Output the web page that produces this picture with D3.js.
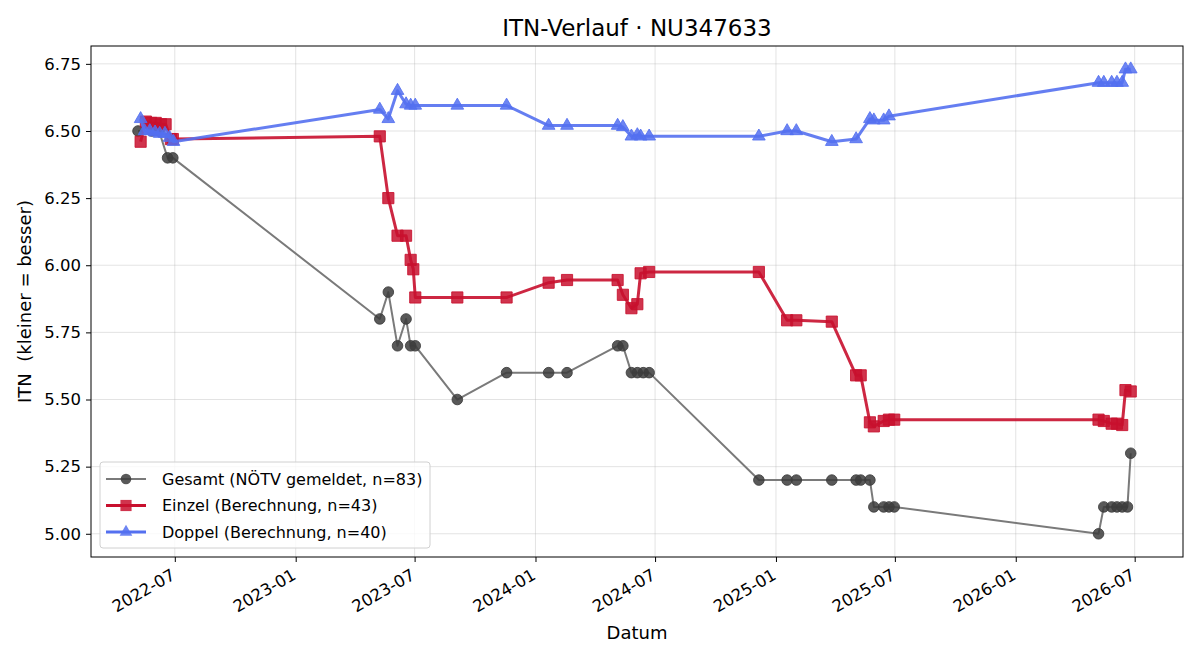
<!DOCTYPE html>
<html>
<head>
<meta charset="utf-8">
<script src="https://cdn.jsdelivr.net/npm/d3@7"></script>
<style>
  body { margin: 0; background: #fff; }
  svg { font-family: "DejaVu Sans", sans-serif; }
  text { white-space: pre; }
  .grid line { stroke: #b0b0b0; stroke-opacity: 0.35; }
  .axis path, .axis line { stroke: #000; }
</style>
</head>
<body>
<svg id="chart" width="1200" height="660"></svg>
<script>
// Gesamt (NÖTV gemeldet)
gesamtDates = ['2022-05-06','2022-05-27','2022-06-07','2022-06-20','2022-06-28',
  '2023-05-09','2023-05-22','2023-06-05','2023-06-18','2023-06-25','2023-07-02',
  '2023-09-04','2023-11-18','2024-01-21','2024-02-18','2024-05-05','2024-05-13',
  '2024-05-26','2024-06-04','2024-06-13','2024-06-22','2024-12-06','2025-01-18',
  '2025-02-01','2025-03-27','2025-05-03','2025-05-10','2025-05-24','2025-05-30',
  '2025-06-14','2025-06-22','2025-06-30','2026-05-07','2026-05-15','2026-05-27',
  '2026-06-04','2026-06-12','2026-06-20','2026-06-25']
gesamtValues = [6.50, 6.50, 6.50, 6.40, 6.40,
  5.80, 5.90, 5.70, 5.80, 5.70, 5.70,
  5.50, 5.60, 5.60, 5.60, 5.70, 5.70,
  5.60, 5.60, 5.60, 5.60, 5.20, 5.20,
  5.20, 5.20, 5.20, 5.20, 5.20, 5.10,
  5.10, 5.10, 5.10, 5.00, 5.10, 5.10,
  5.10, 5.10, 5.10, 5.30]

// Einzel (Berechnung)
einzelDates = ['2022-05-10','2022-05-18','2022-05-26','2022-06-02','2022-06-10',
  '2022-06-17','2022-06-25','2022-06-28','2023-05-09','2023-05-22','2023-06-05',
  '2023-06-18','2023-06-25','2023-06-29','2023-07-02','2023-09-04','2023-11-18',
  '2024-01-21','2024-02-18','2024-05-05','2024-05-13','2024-05-26','2024-06-04',
  '2024-06-09','2024-06-22','2024-12-06','2025-01-18','2025-02-01','2025-03-27',
  '2025-05-03','2025-05-10','2025-05-24','2025-05-30','2025-06-14','2025-06-22',
  '2025-06-30','2026-05-07','2026-05-15','2026-05-27','2026-06-04','2026-06-12',
  '2026-06-17','2026-06-25']
einzelValues = [6.46, 6.535, 6.53, 6.53, 6.525,
  6.525, 6.47, 6.47, 6.48, 6.25, 6.11,
  6.11, 6.02, 5.985, 5.88, 5.88, 5.88,
  5.935, 5.945, 5.945, 5.89, 5.84, 5.855,
  5.97, 5.975, 5.975, 5.795, 5.795, 5.79,
  5.59, 5.59, 5.415, 5.40, 5.42, 5.425,
  5.425, 5.425, 5.42, 5.41, 5.41, 5.405,
  5.535, 5.53]

// Doppel (Berechnung)
doppelDates = ['2022-05-10','2022-05-16','2022-05-24','2022-06-01','2022-06-08',
  '2022-06-16','2022-06-23','2022-06-29','2023-05-09','2023-05-22','2023-06-05',
  '2023-06-18','2023-06-25','2023-07-02','2023-09-04','2023-11-18','2024-01-21',
  '2024-02-18','2024-05-05','2024-05-13','2024-05-26','2024-06-04','2024-06-09',
  '2024-06-22','2024-12-06','2025-01-18','2025-02-01','2025-03-27','2025-05-03',
  '2025-05-24','2025-05-30','2025-06-14','2025-06-22','2026-05-07','2026-05-15',
  '2026-05-27','2026-06-04','2026-06-12','2026-06-17','2026-06-25']
doppelValues = [6.545, 6.50, 6.50, 6.495, 6.49,
  6.49, 6.475, 6.46, 6.58, 6.545, 6.65,
  6.60, 6.595, 6.595, 6.595, 6.595, 6.52,
  6.52, 6.52, 6.515, 6.48, 6.485, 6.48,
  6.48, 6.48, 6.50, 6.50, 6.46, 6.47,
  6.545, 6.54, 6.54, 6.555, 6.68, 6.68,
  6.68, 6.68, 6.68, 6.73, 6.73]

titleText = 'ITN-Verlauf · NU347633'
xLabel = 'Datum'
yLabel = 'ITN  (kleiner = besser)'
yTicks = [5.00, 5.25, 5.50, 5.75, 6.00, 6.25, 6.50, 6.75]

parse = d3.timeParse('%Y-%m-%d')

series = [
  { name: 'Gesamt (NÖTV gemeldet, n=83)', dates: gesamtDates, values: gesamtValues,
    line: '#7a7a7a', lw: 2, fill: '#3c3c3c', shape: d3.symbolCircle, size: 88 },
  { name: 'Einzel (Berechnung, n=43)', dates: einzelDates, values: einzelValues,
    line: '#c8102e', lw: 3, fill: '#c8102e', shape: d3.symbolSquare, size: 125 },
  { name: 'Doppel (Berechnung, n=40)', dates: doppelDates, values: doppelValues,
    line: '#5470f0', lw: 3, fill: '#5470f0', shape: d3.symbolTriangle, size: 70 }
]
series.forEach(function(s) {
  s.points = s.dates.map(function(d, i) { return { date: parse(d), value: s.values[i] } })
})

margin = { left: 91, right: 17, top: 46, bottom: 103 }
width = 1200 - margin.left - margin.right
height = 660 - margin.top - margin.bottom

allPoints = d3.merge(series.map(function(s) { return s.points }))
xExt = d3.extent(allPoints, function(d) { return d.date })
yExt = d3.extent(allPoints, function(d) { return d.value })
xPad = (xExt[1] - xExt[0]) * 0.05
yPad = (yExt[1] - yExt[0]) * 0.05

x = d3.scaleTime()
      .domain([d3.timeDay.offset(new Date(+xExt[0] - xPad), 4),
               d3.timeDay.offset(new Date(+xExt[1] + xPad), 4)])
      .range([0, width])
y = d3.scaleLinear()
      .domain([yExt[0] - yPad, yExt[1] + yPad])
      .range([height, 0])

svg = d3.select('#chart')
g = svg.append('g').attr('transform', 'translate(' + margin.left + ',' + margin.top + ')')

xTicks = d3.timeMonth.range(d3.timeMonth.ceil(x.domain()[0]), x.domain()[1])
  .filter(function(d) { return d.getMonth() == 0 || d.getMonth() == 6 })

// grid
grid = g.append('g').attr('class', 'grid')
grid.selectAll('line.v').data(xTicks).enter().append('line').attr('class', 'v')
  .attr('x1', function(d) { return x(d) }).attr('x2', function(d) { return x(d) })
  .attr('y1', 0).attr('y2', height)
grid.selectAll('line.h').data(yTicks).enter().append('line').attr('class', 'h')
  .attr('y1', function(d) { return y(d) }).attr('y2', function(d) { return y(d) })
  .attr('x1', 0).attr('x2', width)

// axes
xAxis = g.append('g').attr('class', 'axis')
  .attr('transform', 'translate(0,' + height + ')')
  .call(d3.axisBottom(x).tickValues(xTicks).tickFormat(d3.timeFormat('%Y-%m')).tickSize(5).tickPadding(6))
xAxis.attr('font-size', 16.5).attr('font-family', null)
xAxis.selectAll('text').each(function() {
  var t = d3.select(this)
  var yv = +t.attr('y')
  t.attr('text-anchor', 'end')
   .attr('x', 0).attr('y', 0).attr('dy', '0.72em')
   .attr('transform', 'translate(-5,' + yv + ') rotate(-30)')
})
xAxis.select('.domain').remove()

yAxis = g.append('g').attr('class', 'axis')
  .call(d3.axisLeft(y).tickValues(yTicks).tickFormat(d3.format('.2f')).tickSize(5).tickPadding(5))
yAxis.attr('font-size', 16.5).attr('font-family', null)
yAxis.select('.domain').remove()

g.append('rect').attr('width', width).attr('height', height)
  .attr('fill', 'none').attr('stroke', '#000').attr('stroke-width', 1)

// lines and markers
series.forEach(function(s) {
  var line = d3.line()
    .x(function(d) { return x(d.date) })
    .y(function(d) { return y(d.value) })
  g.append('path').datum(s.points)
    .attr('d', line)
    .attr('fill', 'none')
    .attr('stroke', s.line)
    .attr('stroke-width', s.lw)
    .attr('stroke-opacity', s.shape == d3.symbolCircle ? 1 : 0.9)
    .attr('stroke-linejoin', 'round')
  g.append('g').selectAll('path').data(s.points).enter().append('path')
    .attr('transform', function(d) { return 'translate(' + x(d.date) + ',' + y(d.value) + ')' })
    .attr('d', d3.symbol().type(s.shape).size(s.size))
    .attr('fill', s.fill)
    .attr('fill-opacity', 0.85)
    .attr('stroke', s.fill)
    .attr('stroke-opacity', 0.85)
    .attr('stroke-width', 1)
})

// legend
legend = g.append('g').attr('transform', 'translate(9,' + (height - 95) + ')')
legend.append('rect')
  .attr('width', 330).attr('height', 86).attr('rx', 3)
  .attr('fill', '#fff').attr('fill-opacity', 0.8)
  .attr('stroke', '#d0d0d0')
series.forEach(function(s, i) {
  var row = legend.append('g').attr('transform', 'translate(0,' + (17 + i * 26.5) + ')')
  row.append('line').attr('x1', 6).attr('x2', 46)
    .attr('stroke', s.line).attr('stroke-width', s.lw)
  row.append('path').attr('transform', 'translate(26,0)')
    .attr('d', d3.symbol().type(s.shape).size(s.size))
    .attr('fill', s.fill).attr('fill-opacity', 0.85)
  row.append('text').attr('x', 62).attr('dy', '0.35em')
    .attr('font-size', '16px').text(s.name)
})

// labels
svg.append('text').attr('x', margin.left + width / 2).attr('y', 36)
  .attr('text-anchor', 'middle').attr('font-size', '23px').text(titleText)
svg.append('text').attr('x', margin.left + width / 2).attr('y', 639)
  .attr('text-anchor', 'middle').attr('font-size', '18px').text(xLabel)
svg.append('text')
  .attr('transform', 'translate(31,' + (margin.top + height / 2) + ') rotate(-90)')
  .attr('text-anchor', 'middle').attr('font-size', '18px').text(yLabel)
</script>
</body>
</html>
